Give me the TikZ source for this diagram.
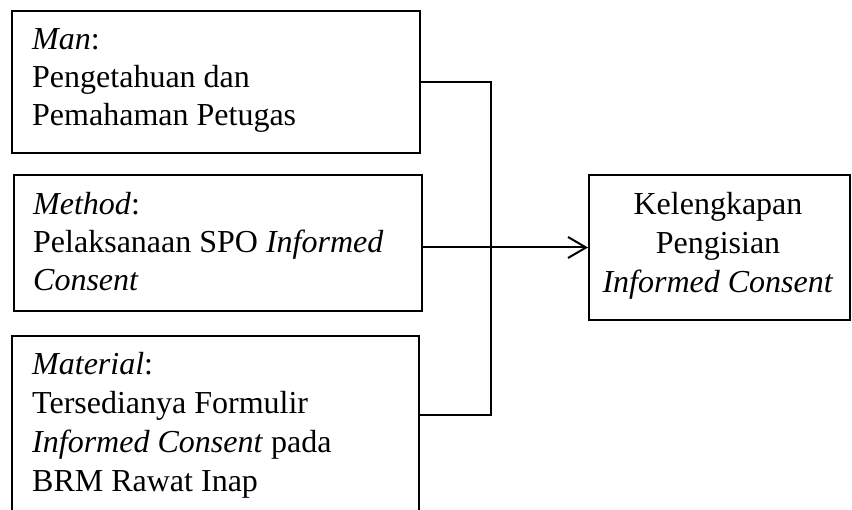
\documentclass[tikz,border=0pt]{standalone}
\usepackage{fontspec}
\setmainfont{Liberation Serif}
\usetikzlibrary{arrows.meta,calc}
\begin{document}
\begin{tikzpicture}[x=1pt,y=-1pt,
  box/.style={draw, line width=2pt, inner sep=0pt, anchor=north west},
  txt/.style={anchor=base west, inner sep=0pt, font=\fontsize{32pt}{38pt}\selectfont},
  ctxt/.style={anchor=base, inner sep=0pt, font=\fontsize{32pt}{38pt}\selectfont},
  conn/.style={line width=2pt}]
\useasboundingbox (0,0) rectangle (852,510);
% boxes
\node[box, minimum width=408pt, minimum height=142pt] (man) at (11,10) {};
\node[box, minimum width=408pt, minimum height=136pt] (meth) at (13,174) {};
\node[box, minimum width=407pt, minimum height=200pt] (mat) at (11,335) {};
\node[box, minimum width=261pt, minimum height=145pt] (out) at (588,174) {};
% texts box 1
\node[txt] (t11) at (32,50) {\textit{Man}:};
\node[txt] (t12) at (32,88) {Pengetahuan dan};
\node[txt] (t13) at (32,126) {Pemahaman Petugas};
% texts box 2
\node[txt] (t21) at (33,215) {\textit{Method}:};
\node[txt] (t22) at (33,253) {Pelaksanaan SPO \textit{Informed}};
\node[txt] (t23) at (33,291) {\textit{Consent}};
% texts box 3
\node[txt] (t31) at (32,375) {\textit{Material}:};
\node[txt] (t32) at (32,414) {Tersedianya Formulir};
\node[txt] (t33) at (32,453) {\textit{Informed Consent} pada};
\node[txt] (t34) at (32,492) {BRM Rawat Inap};
% output box
\node[ctxt] (o1) at (718,215) {Kelengkapan};
\node[ctxt] (o2) at (718,254) {Pengisian};
\node[ctxt] (o3) at (718,293) {\textit{Informed Consent}};
% connectors
\coordinate (j) at (491,0);
\coordinate (jb) at ($(mat.north east)+(0,80)$);
\draw[conn] (man.east) -| (j |- jb) -- (jb);
\draw[conn, -{Straight Barb[length=18pt,width=21pt,line width=2pt]}] (meth.east |- out.west) -- (out.west);
\end{tikzpicture}
\end{document}
